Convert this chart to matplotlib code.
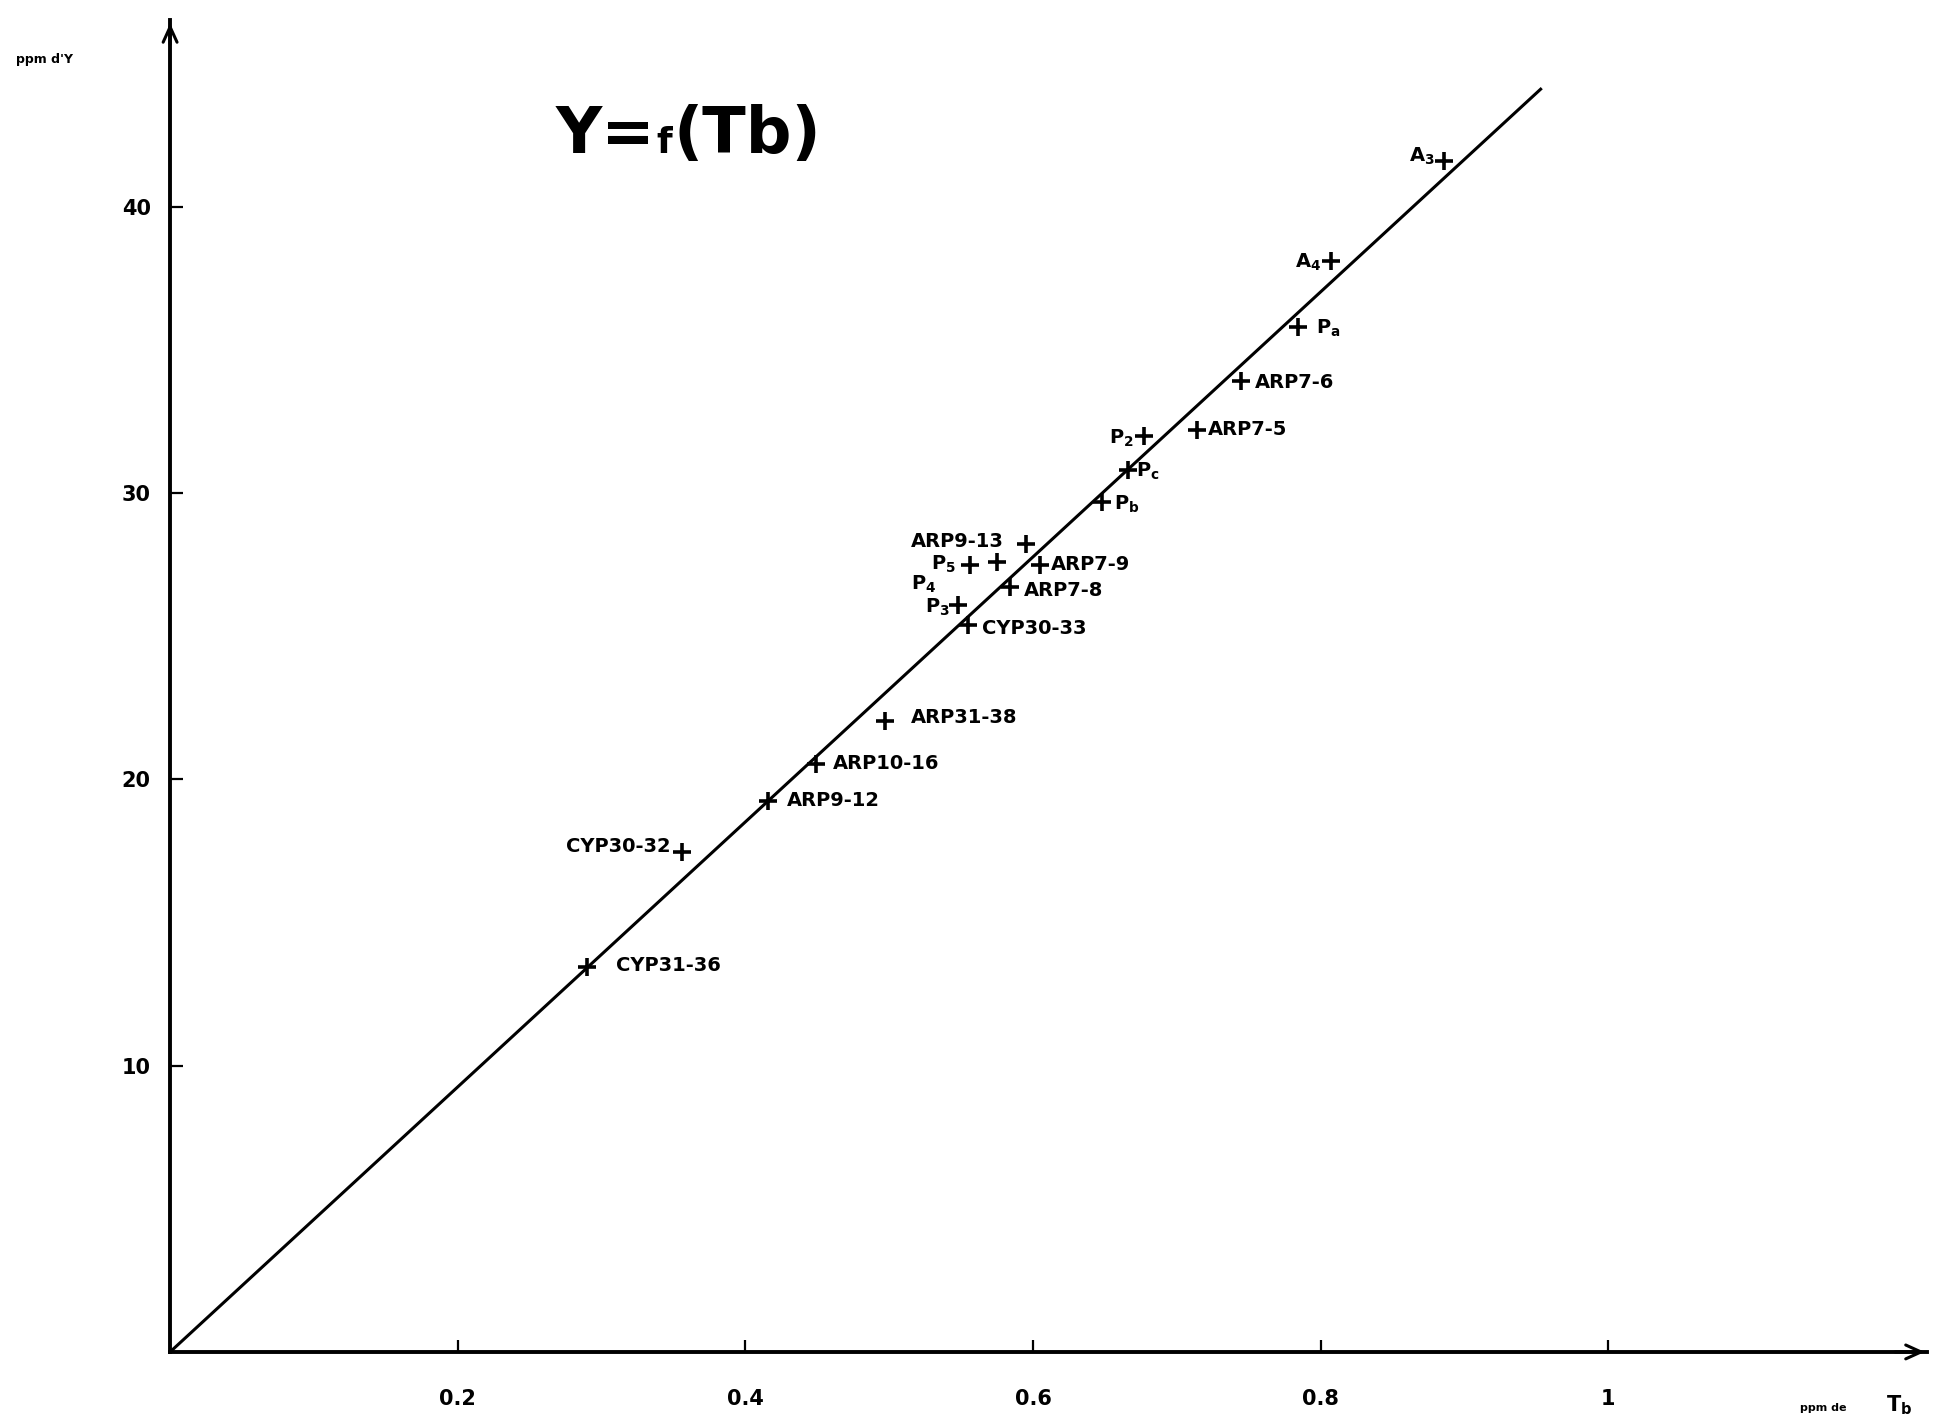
import matplotlib
matplotlib.use("Agg")
import matplotlib.pyplot as plt

plt.rcParams['font.family'] = ['DejaVu Sans']
plt.rcParams['font.weight'] = 'bold'
plt.rcParams['mathtext.default'] = 'regular'

# samples: ppm de Tb (x) vs ppm d'Y (y)
names = ['A$_3$', 'A$_4$', 'P$_a$', 'ARP7-6', 'ARP7-5', 'P$_2$', 'P$_c$', 'P$_b$',
         'ARP9-13', 'P$_5$', 'P$_4$', 'ARP7-9', 'ARP7-8', 'P$_3$', 'CYP30-33',
         'ARP31-38', 'ARP10-16', 'ARP9-12', 'CYP30-32', 'CYP31-36']
tb = [0.886, 0.807, 0.784, 0.745, 0.714, 0.677, 0.666, 0.648,
      0.595, 0.556, 0.575, 0.605, 0.584, 0.548, 0.555,
      0.497, 0.449, 0.416, 0.356, 0.290]
yppm = [41.6, 38.1, 35.8, 33.9, 32.2, 32.0, 30.8, 29.7,
        28.2, 27.5, 27.6, 27.5, 26.7, 26.1, 25.4,
        22.05, 20.55, 19.25, 17.45, 13.43]

# label offsets (points) and alignment
offsets = [(-7, 3), (-7, -1), (13, -1), (10, -1), (8, 0), (-7, -2), (6, -1), (9, -2),
           (-16, 2), (-10, 0), (-44, -16), (8, 0), (10, -2), (-6, -2), (10, -3),
           (19, 2), (12, 0), (13, 0), (-8, 4), (21, 1)]
aligns = ['right', 'right', 'left', 'left', 'left', 'right', 'left', 'left',
          'right', 'right', 'right', 'left', 'left', 'right', 'left',
          'left', 'left', 'left', 'right', 'left']

fit_x = [0, 0.953]
fit_y = [0, 44.1]

xticks = [0.2, 0.4, 0.6, 0.8, 1.0]
xlabels = ['0.2', '0.4', '0.6', '0.8', '1']
yticks = [10, 20, 30, 40]

fig = plt.figure(figsize=(19.44, 14.21), dpi=100)
ax = fig.add_axes([0.0875, 0.0486, 0.904, 0.937])
ax.set_xlim(0, 1.222)
ax.set_ylim(0, 46.5)

for s in ['top', 'right']:
    ax.spines[s].set_visible(False)
for s in ['left', 'bottom']:
    ax.spines[s].set_linewidth(2.8)

# arrow heads
ax.annotate('', xy=(1, 0), xytext=(0.98, 0), xycoords='axes fraction',
            arrowprops=dict(arrowstyle='->,head_length=1.1,head_width=0.5', lw=2.2, color='black'))
ax.annotate('', xy=(0, 1), xytext=(0, 0.98), xycoords='axes fraction',
            arrowprops=dict(arrowstyle='->,head_length=1.1,head_width=0.5', lw=2.2, color='black'))

ax.set_xticks(xticks)
ax.set_xticklabels(xlabels)
ax.set_yticks(yticks)
ax.tick_params(direction='in', length=9, width=1.6, labelsize=15, pad=14)
ax.tick_params(axis='x', pad=27)

ax.plot(fit_x, fit_y, color='black', lw=2.2)
ax.plot(tb, yppm, linestyle='none', marker='+', markersize=13, mew=2.6, color='black')

for n, x, y, off, ha in zip(names, tb, yppm, offsets, aligns):
    ax.annotate(n, (x, y), xytext=off, textcoords='offset points',
                ha=ha, va='center', fontsize=14, fontweight='bold')

# title "Y=f(Tb)" with a small f, laid out piece by piece
fig.canvas.draw()
r = fig.canvas.get_renderer()
x0 = 0.286 * fig.bbox.width
ybase = (1 - 0.108) * fig.bbox.height
for part, size in [('Y=', 46), ('f', 26), ('(Tb)', 46)]:
    t = fig.text(x0 / fig.bbox.width, ybase / fig.bbox.height, part, fontsize=size,
                 fontweight='heavy', ha='left', va='baseline')
    x0 += t.get_window_extent(r).width + 1

fig.text(0.008, 0.958, "ppm d'Y", fontsize=9, fontweight='bold', ha='left', va='center')
fig.text(0.926, 0.0095, 'ppm de', fontsize=8, fontweight='bold', ha='left', va='center')
fig.text(0.970, 0.011, 'T$_b$', fontsize=15, fontweight='bold', ha='left', va='center')

fig.savefig('out.png', dpi=100)
